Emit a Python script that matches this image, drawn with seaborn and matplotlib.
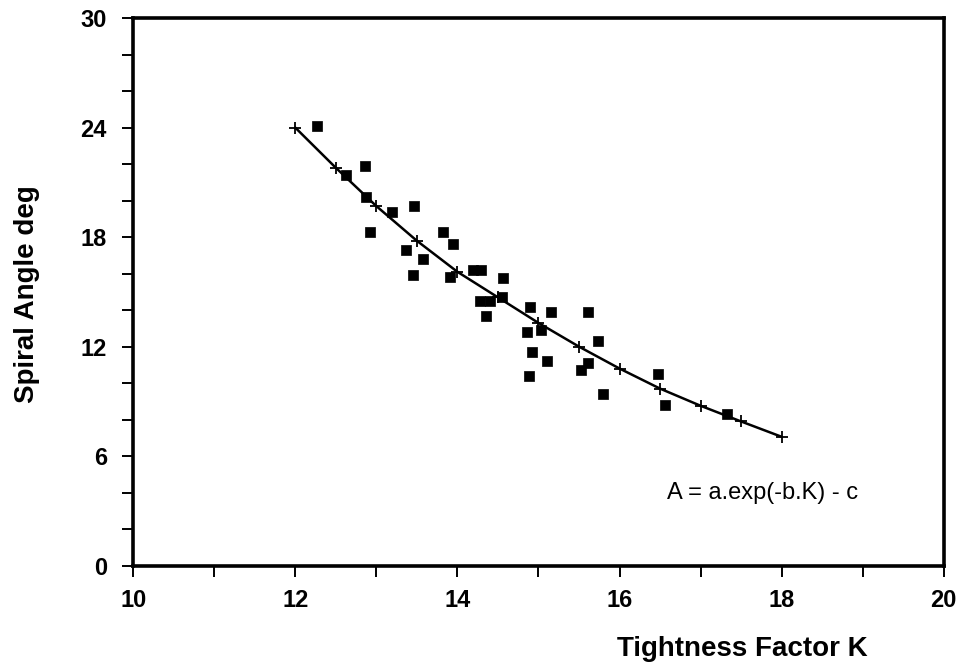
import numpy as np
import pandas as pd
import seaborn as sns
from matplotlib import pyplot as plt

# measured points (tightness factor K, spiral angle deg)
k_meas = [12.27, 12.62, 12.86, 12.87, 13.19, 13.47, 12.92, 13.82, 13.94, 13.36,
          13.58, 13.45, 13.91, 14.19, 14.29, 14.56, 14.28, 14.40, 14.55, 14.35,
          14.89, 15.16, 15.61, 14.86, 15.03, 15.74, 14.92, 15.10, 15.61, 15.53,
          14.88, 15.80, 16.48, 16.56, 17.32]
a_meas = [24.1, 21.4, 21.9, 20.2, 19.4, 19.7, 18.3, 18.3, 17.6, 17.3,
          16.8, 15.9, 15.8, 16.2, 16.2, 15.75, 14.5, 14.5, 14.7, 13.7,
          14.16, 13.9, 13.9, 12.8, 12.9, 12.3, 11.7, 11.2, 11.1, 10.7,
          10.4, 9.4, 10.5, 8.8, 8.3]

# fitted curve points
k_fit = [12.0, 12.5, 13.0, 13.5, 14.0, 14.5, 15.0, 15.5, 16.0, 16.5, 17.0, 17.5, 18.0]
a_fit = [24.0, 21.8, 19.7, 17.8, 16.1, 14.7, 13.3, 12.0, 10.8, 9.7, 8.76, 7.9, 7.06]

meas = pd.DataFrame({'K': k_meas, 'A': a_meas})
fit = pd.DataFrame({'K': k_fit, 'A': a_fit})

sns.set_style('ticks')
plt.rcParams['font.family'] = ['Liberation Sans', 'DejaVu Sans']
plt.rcParams['text.color'] = 'black'
plt.rcParams['axes.labelcolor'] = 'black'
plt.rcParams['xtick.color'] = 'black'
plt.rcParams['ytick.color'] = 'black'

fig = plt.figure(figsize=(9.65, 6.71), dpi=100)
ax = fig.add_axes([0.138, 0.157, 0.840, 0.816])

sns.lineplot(data=fit, x='K', y='A', ax=ax, color='black', linewidth=1.8,
             marker='+', markersize=8, markeredgewidth=1.3, markeredgecolor='black')
sns.scatterplot(data=meas, x='K', y='A', ax=ax, color='black', marker='s',
                s=55, edgecolor='black', linewidth=0.5, zorder=3)

ax.set_xlim(10, 20)
ax.set_ylim(0, 30)
ax.set_xticks(np.arange(10, 21, 2))
ax.set_xticks(np.arange(10, 21, 1), minor=True)
ax.set_yticks(np.arange(0, 31, 6))
ax.set_yticks(np.arange(0, 31, 2), minor=True)
ax.tick_params(which='both', direction='out', length=8, width=1.4, color='black',
               labelsize=17, labelcolor='black')
ax.tick_params(axis='x', pad=9)
ax.tick_params(axis='y', pad=11)
for lab in ax.get_xticklabels() + ax.get_yticklabels():
    lab.set_fontweight('bold')

for side in ['left', 'bottom', 'right', 'top']:
    ax.spines[side].set_visible(True)
    ax.spines[side].set_color('black')
    ax.spines[side].set_linewidth(2.6)

ax.set_xlabel('Tightness Factor K', fontsize=20, fontweight='bold')
ax.set_ylabel('Spiral Angle deg', fontsize=20, fontweight='bold')
ax.xaxis.set_label_coords(0.751, -0.128)
ax.yaxis.set_label_coords(-0.115, 0.495)

ax.text(16.59, 4.0, 'A = a.exp(-b.K) - c', fontsize=17, va='center', ha='left')

plt.savefig('out.png', dpi=100)
